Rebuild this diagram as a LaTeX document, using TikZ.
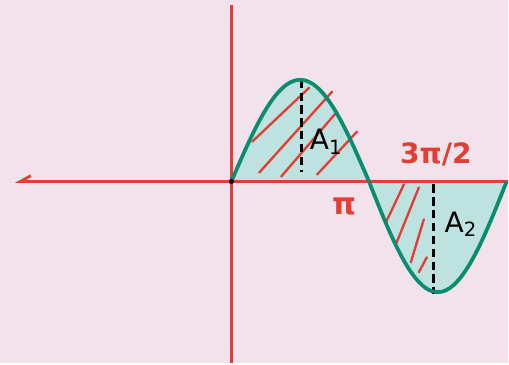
\documentclass[tikz,border=0pt]{standalone}
\usepackage{fontspec}
\setmainfont{DejaVu Sans}
\usetikzlibrary{arrows.meta,calc,positioning}
\definecolor{paper}{RGB}{241,226,236}
\definecolor{axisred}{RGB}{226,62,52}
\definecolor{curvegreen}{RGB}{10,140,110}
\definecolor{lobeteal}{RGB}{190,226,224}

\begin{document}
\begin{tikzpicture}[x=0.03cm,y=0.03cm]
                \def\h{138}
                \def\up{102}
                \def\dn{111}
                \coordinate (o) at (0, 0);
                \coordinate (xl) at (-217, 0);
                \coordinate (xr) at (277, 0);
                \coordinate (yt) at (0, 177);
                \coordinate (yb) at (0, -182);
                \fill[paper] (-232,-182) rectangle (277,182);
                % shaded lobes
                \fill[lobeteal] plot[domain=0:\h, samples=40] (\x, {\up*sin(\x/\h*180)}) -- cycle;
                \fill[lobeteal] plot[domain=\h:276, samples=40] (\x, {\dn*sin(\x/\h*180)}) -- cycle;
                % hatching
                \draw[axisred, line width=2pt, line cap=round] (21,40) -- (78,94);
                \draw[axisred, line width=2pt, line cap=round] (28,9) -- (101,90);
                \draw[axisred, line width=2pt, line cap=round] (50,5) -- (106,70);
                \draw[axisred, line width=2pt, line cap=round] (86,7) -- (126,50);
                \draw[axisred, line width=2pt, line cap=round] (155,-41) -- (173,-3);
                \draw[axisred, line width=2pt, line cap=round] (165,-63) -- (188,-6);
                \draw[axisred, line width=2pt, line cap=round] (180,-81) -- (193,-38);
                \draw[axisred, line width=2pt, line cap=round] (188,-91) -- (196,-76);
                % axes
                \draw[axisred, line width=2.4pt, -{Straight Barb[harpoon,swap,length=9pt,width=10pt]}] (xr) -- (xl);
                \draw[axisred, line width=2.4pt] (yt) -- (yb);
                % dashed ordinates
                \coordinate (d1t) at (70, \up);
                \coordinate (d1b) at (70, 10);
                \coordinate (d2t) at (203, -3);
                \coordinate (d2b) at (203, -113);
                \draw[black, line width=2.4pt, dash pattern=on 7pt off 4pt] (d1t) -- (d1b);
                \draw[black, line width=2.4pt, dash pattern=on 7pt off 4pt] (d2t) -- (d2b);
                % curve
                \draw[curvegreen, line width=3.2pt] plot[domain=0:\h, samples=40] (\x, {\up*sin(\x/\h*180)});
                \draw[curvegreen, line width=3.2pt] plot[domain=\h:276, samples=40] (\x, {\dn*sin(\x/\h*180)});
                \fill[black] (o) circle (2.2pt);
                % labels
                \node[font=\fontsize{24}{24}\selectfont] (a1) at (95,40) {A\textsubscript{1}};
                \node[font=\fontsize{24}{24}\selectfont] (a2) at (230,-43) {A\textsubscript{2}};
                \node[axisred, font=\fontsize{24}{24}\selectfont\bfseries] (tp) at (205,27) {3π/2};
                \node[axisred, font=\fontsize{26}{26}\selectfont\bfseries] (pi) at (113,-25) {π};
            \end{tikzpicture}
\end{document}
